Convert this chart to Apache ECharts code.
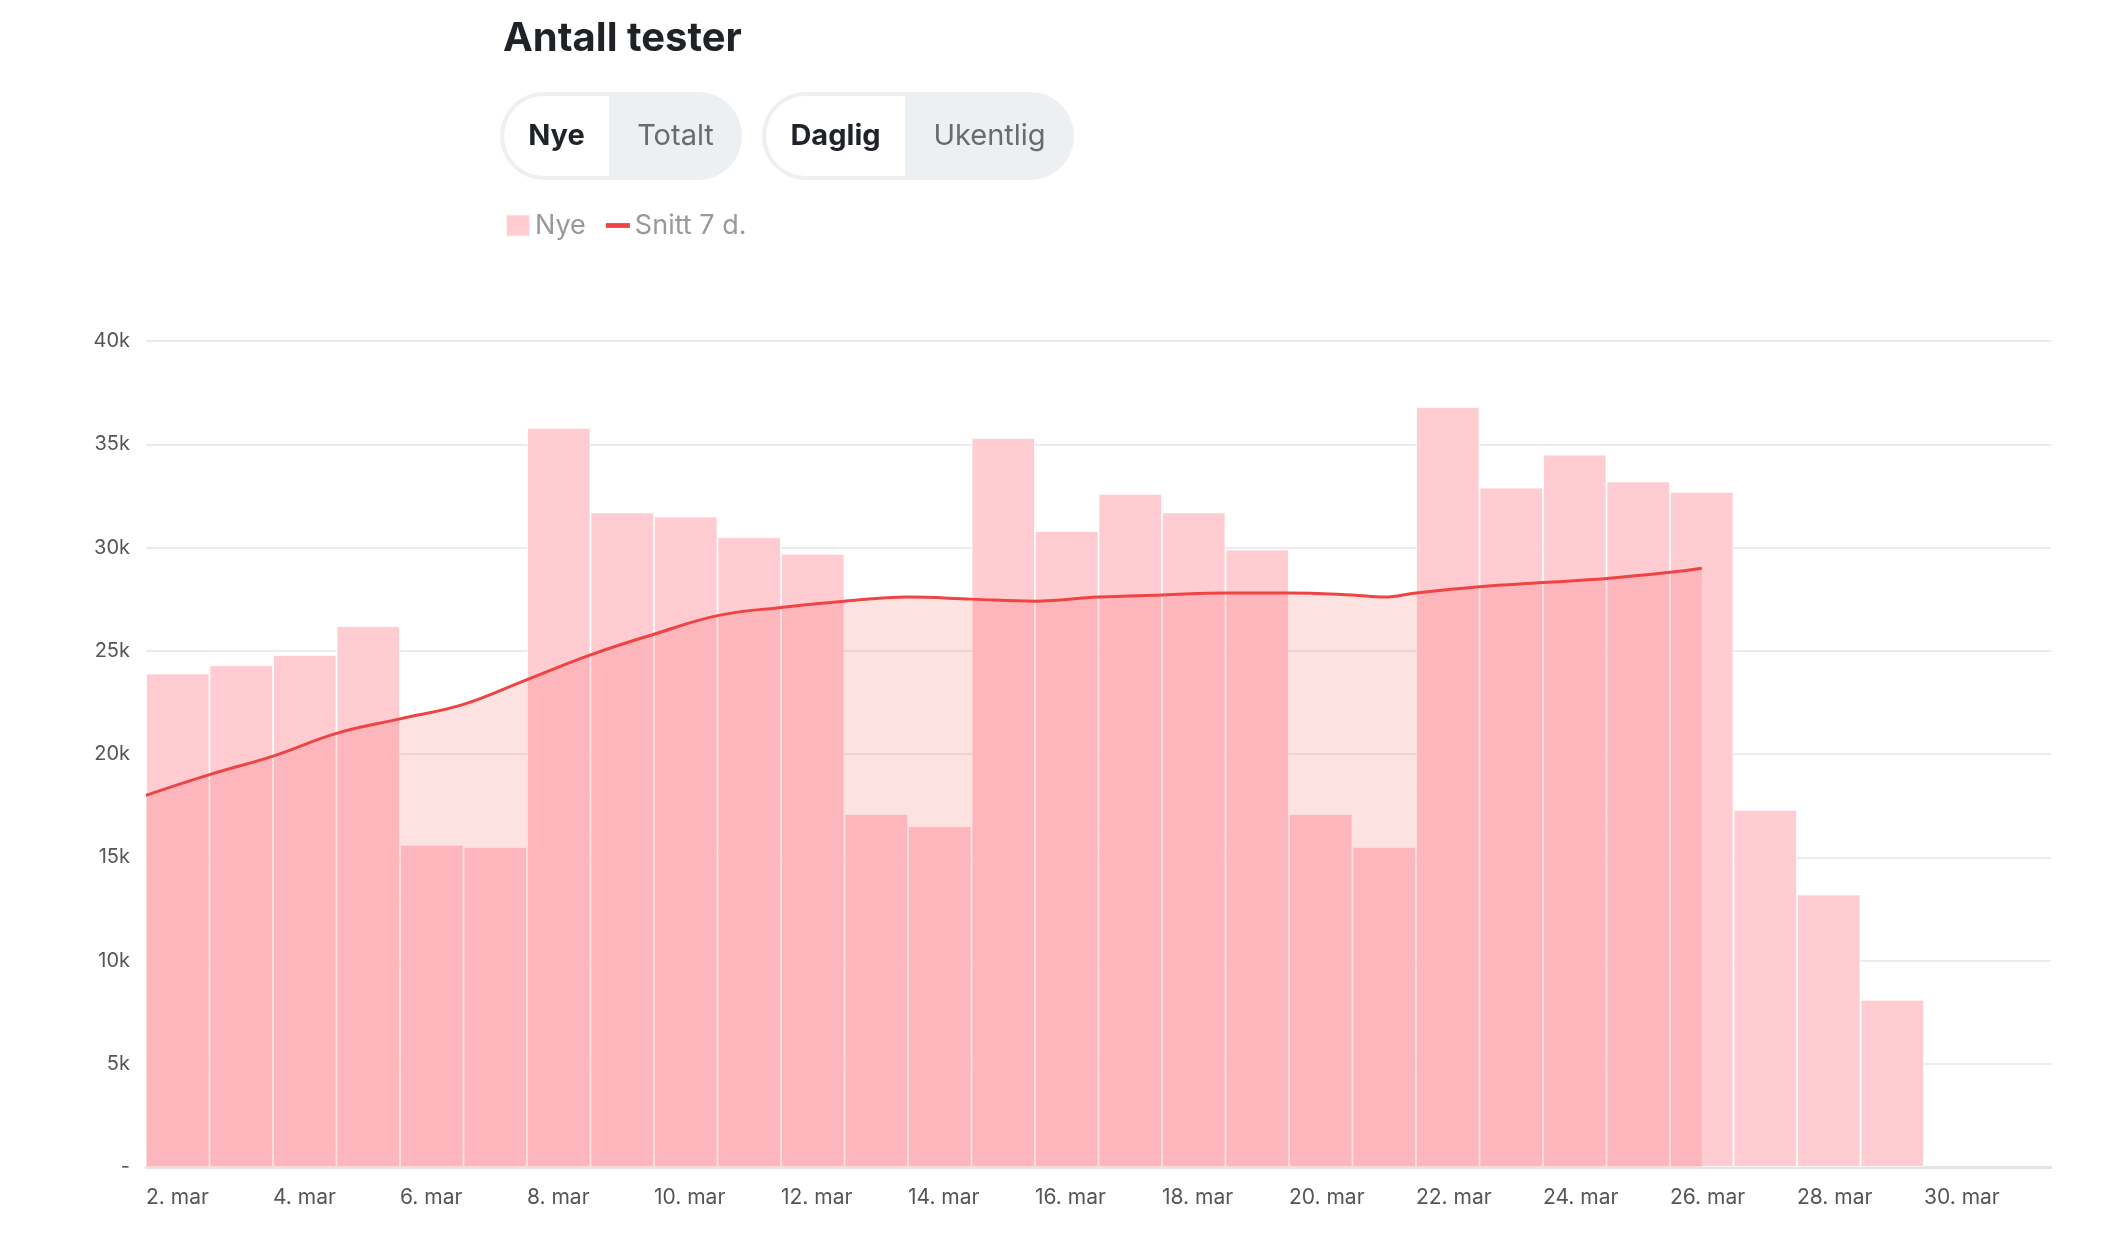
<!DOCTYPE html>
<html><head><meta charset="utf-8">
<script src="https://cdn.jsdelivr.net/npm/echarts@6/dist/echarts.min.js"></script>
<style>html,body{margin:0;background:#fff}#main{width:2102px;height:1238px}</style>
</head><body><div id="main"></div>
<script>
var myChart = echarts.init(document.getElementById('main'));

// days 2. mar .. 31. mar, one slot per day
var dayLabels = ['2. mar','3. mar','4. mar','5. mar','6. mar','7. mar','8. mar','9. mar','10. mar','11. mar',
  '12. mar','13. mar','14. mar','15. mar','16. mar','17. mar','18. mar','19. mar','20. mar','21. mar',
  '22. mar','23. mar','24. mar','25. mar','26. mar','27. mar','28. mar','29. mar','30. mar','31. mar'];
// new tests per day (thousands), 2. mar .. 29. mar
var nyeValues = [23.9,24.3,24.8,26.2,15.6,15.5,35.8,31.7,31.5,30.5,29.7,17.1,16.5,35.3,30.8,32.6,31.7,29.9,
  17.1,15.5,36.8,32.9,34.5,33.2,32.7,17.3,13.2,8.1];
// 7 day average: position on the day axis and value (thousands)
var snittX = [0,1,2,3,4,5,6,7,8,9,10,11,12,13,14,15,16,17,18,19,19.5,20,21,22,23,24,24.5];
var snittValues = [18.0,19.0,19.9,21.0,21.7,22.4,23.6,24.8,25.8,26.7,27.1,27.4,27.6,27.5,27.4,27.6,27.7,
  27.8,27.8,27.7,27.6,27.8,28.1,28.3,28.5,28.8,29.0];

var barData = nyeValues.map(function (v, i) { return [i + 0.5, v * 1000]; });
var lineData = snittValues.map(function (v, i) { return [snittX[i], v * 1000]; });

var font = 'Inter, "Noto Sans", sans-serif';

function pill(x, w, split, left, right) {
  return {
    type: 'group', left: x, top: 92,
    children: [
      { type: 'rect', shape: { x: 0, y: 0, width: w, height: 88, r: 44 }, style: { fill: '#edf0f3' } },
      { type: 'rect', shape: { x: 4, y: 4, width: split - 4, height: 80, r: [40, 0, 0, 40] }, style: { fill: '#fff' } },
      { type: 'text', x: split / 2 + 2, y: 44, style: { text: left, font: 'bold 29px ' + font, fill: '#1f2328', align: 'center', verticalAlign: 'middle' } },
      { type: 'text', x: (split + w) / 2, y: 44, style: { text: right, font: '29px ' + font, fill: '#6b6b6b', align: 'center', verticalAlign: 'middle' } }
    ]
  };
}

option = {
  animation: false,
  title: {
    text: 'Antall tester', left: 498, top: 14,
    textStyle: { fontFamily: font, fontSize: 40, fontWeight: 'bold', color: '#1f2328' }
  },
  legend: {
    left: 500, top: 207, itemWidth: 24, itemHeight: 22, itemGap: 20,
    textStyle: { fontFamily: font, fontSize: 27, color: '#999' },
    data: [
      { name: 'Nye', icon: 'rect' },
      { name: 'Snitt 7 d.', icon: 'path://M0,0H10V2H0Z', itemStyle: { color: '#ef4444' } }
    ]
  },
  graphic: [pill(500, 242, 109, 'Nye', 'Totalt'), pill(762, 312, 143, 'Daglig', 'Ukentlig')],
  grid: { left: 146, right: 51, top: 341, bottom: 71 },
  xAxis: {
    type: 'value', min: 0, max: 30, interval: 2,
    axisLine: { show: true, lineStyle: { color: '#e4e4e8', width: 3 } },
    axisTick: { show: false },
    splitLine: { show: false },
    axisLabel: {
      fontFamily: font, fontSize: 21, color: '#555', margin: 20, align: 'left',
      formatter: function (v) { return v < 29 ? dayLabels[v] : ''; }
    }
  },
  yAxis: {
    type: 'value', min: 0, max: 40000, interval: 5000,
    axisLine: { show: false }, axisTick: { show: false },
    splitLine: { lineStyle: { color: '#e6e6e6', width: 1.5 } },
    axisLabel: {
      fontFamily: font, fontSize: 20, color: '#555', margin: 16,
      formatter: function (v) { return v === 0 ? '-' : (v / 1000) + 'k'; }
    }
  },
  series: [
    {
      name: 'Nye', type: 'bar', data: barData, barWidth: 63.5,
      itemStyle: { color: '#ffccd2', borderColor: 'rgba(255,255,255,0.7)', borderWidth: 1 }
    },
    {
      name: 'Snitt 7 d.', type: 'line', data: lineData, smooth: 0.4, showSymbol: false,
      lineStyle: { color: '#ef4444', width: 3 },
      itemStyle: { color: '#ef4444' },
      areaStyle: { color: 'rgba(239,68,68,0.22)', origin: 'start' },
      z: 3
    }
  ]
};
myChart.setOption(option);
</script></body></html>
